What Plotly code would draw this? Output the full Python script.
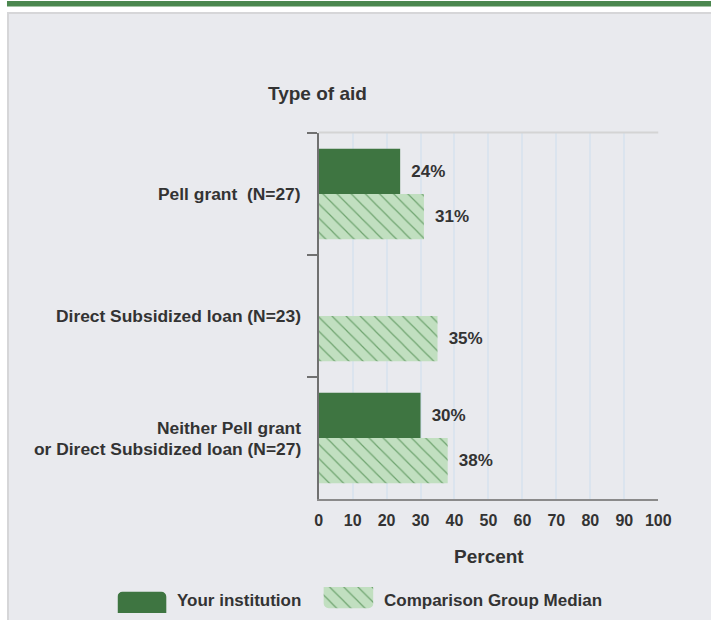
import plotly.graph_objects as go

W, H = 711, 620          # target picture size (design coordinates)
W_LAYOUT = 725           # figure width; the captured page is squeezed to W
X_SHIFT = -2             # small horizontal correction of the capture

categories = ["Pell grant  (N=27)",
              "Direct Subsidized loan (N=23)",
              "Neither Pell grant<br>or Direct Subsidized loan (N=27)"]
your_institution = [24, None, 30]
comparison_median = [31, 35, 38]
x_ticks = [0, 10, 20, 30, 40, 50, 60, 70, 80, 90, 100]
series_names = ["Your institution", "Comparison Group Median"]

DARK = "#3e7541"
LIGHT = "#c1dfc0"
DOT = "#4b8a4c"
TXT = "#333333"
FONT = "Liberation Sans, Arial, sans-serif"
PATTERN = dict(shape="\\", fgcolor=DOT, bgcolor=LIGHT,
               size=10, solidity=0.12, fgopacity=0.7)


def px(x):
    return (x + X_SHIFT) / W


def py(y):
    return 1 - y / H


def labels(vals):
    return ["" if v is None else f"\u00a0\u2009{v}%" for v in vals]


fig = go.Figure()
fig.add_trace(go.Bar(
    y=categories, x=your_institution, orientation="h", name=series_names[0],
    marker=dict(color=DARK, line=dict(width=0)),
    text=labels(your_institution), textposition="outside", cliponaxis=False,
    textfont=dict(family=FONT, size=17, color=TXT, weight="bold"),
    showlegend=False, hoverinfo="skip"))
fig.add_trace(go.Bar(
    y=categories, x=comparison_median, orientation="h", name=series_names[1],
    marker=dict(color=LIGHT, line=dict(width=0), pattern=PATTERN),
    text=labels(comparison_median), textposition="outside", cliponaxis=False,
    textfont=dict(family=FONT, size=17, color=TXT, weight="bold"),
    showlegend=False, hoverinfo="skip"))

# legend swatches drawn as bars on a small hidden axis pair
legend_base = [0, 207]
legend_len = [49, 50]
fig.add_trace(go.Bar(
    y=[0], x=[legend_len[0]], base=[legend_base[0]], orientation="h",
    xaxis="x2", yaxis="y2", width=1, showlegend=False, hoverinfo="skip",
    marker=dict(color=DARK, cornerradius=5, line=dict(width=0))))
fig.add_trace(go.Bar(
    y=[0], x=[legend_len[1]], base=[legend_base[1]], orientation="h",
    xaxis="x2", yaxis="y2", width=1, showlegend=False, hoverinfo="skip",
    marker=dict(color=LIGHT, cornerradius=5, line=dict(width=0),
                pattern=PATTERN)))

shapes = [
    dict(type="rect", xref="paper", yref="paper", x0=px(6), x1=px(720),
         y0=py(621), y1=py(13), fillcolor="#e9eaee",
         line=dict(color="#d6d6d8", width=2), layer="below"),
    dict(type="rect", xref="paper", yref="paper", x0=px(5), x1=px(720),
         y0=py(6.5), y1=py(1), fillcolor="#4b874f", line=dict(width=0),
         layer="below"),
    dict(type="line", xref="paper", yref="paper", x0=px(318), x1=px(659),
         y0=py(132.5), y1=py(132.5), line=dict(color="#d4d4d4", width=2)),
]


def note(text, x, y, size, xanchor="center"):
    return dict(text=f"<b>{text}</b>", xref="paper", yref="paper",
                x=px(x), y=py(y), xanchor=xanchor, yanchor="middle",
                showarrow=False, font=dict(family=FONT, size=size, color=TXT))


annotations = [
    note("Type of aid", 317, 93, 19),
    note("Percent", 489, 556, 19),
    note(series_names[0], 174, 600, 17, "left"),
    note(series_names[1], 382, 600, 17, "left"),
]

# category labels (real text), one text per line for tight line spacing
LINE_GAP = 21
for cat in categories:
    lines = cat.split("<br>")
    n = len(lines)
    for i, line in enumerate(lines):
        annotations.append(dict(
            text=f"<b>{line}</b>", xref="paper", yref="y", x=px(302), y=cat,
            xanchor="right", yanchor="middle", showarrow=False,
            yshift=((n - 1) / 2 - i) * LINE_GAP,
            font=dict(family=FONT, size=17.4, color=TXT)))

fig.update_layout(
    width=W - 16, height=H - 16, autosize=False,
    margin=dict(l=0, r=0, t=0, b=0),
    paper_bgcolor="white", plot_bgcolor="#f4f4f4",
    barmode="group", bargap=0.26, bargroupgap=0,
    font=dict(family=FONT, size=16, color=TXT),
    shapes=shapes, annotations=annotations,
    xaxis=dict(domain=[px(318), px(659)], range=[0, 100],
               tickvals=x_ticks, ticktext=[f"<b>{t}</b>" for t in x_ticks],
               showgrid=True, gridcolor="#dbe4ee", gridwidth=2,
               zeroline=False, showline=True, linecolor="#8a8a8a", linewidth=2,
               ticks="", ticklabelstandoff=6,
               tickfont=dict(family=FONT, size=16, color=TXT),
               fixedrange=True),
    yaxis=dict(domain=[py(499), py(133)], autorange="reversed",
               type="category", tickson="boundaries", ticks="outside",
               ticklen=10, tickcolor="#707070", tickwidth=2,
               showline=True, linecolor="#707070", linewidth=2,
               showgrid=False, zeroline=False, showticklabels=False,
               fixedrange=True),
    xaxis2=dict(domain=[px(116), px(373)], range=[0, 257], visible=False,
                fixedrange=True),
    yaxis2=dict(domain=[py(613), py(587)], range=[-0.5, 0.5], visible=False,
                fixedrange=True),
)

post = (
    "document.documentElement.style.margin='0';"
    "document.body.style.margin='0';"
    "document.body.style.overflow='hidden';"
    "var gd=document.getElementById('{plot_id}');"
    f"gd.style.width='{W_LAYOUT}px';gd.style.height='{H}px';"
    f"Plotly.relayout(gd,{{width:{W_LAYOUT},height:{H}}});"
)

fig.write_html("out.html",
               config={"responsive": False, "displayModeBar": False},
               post_script=post)
